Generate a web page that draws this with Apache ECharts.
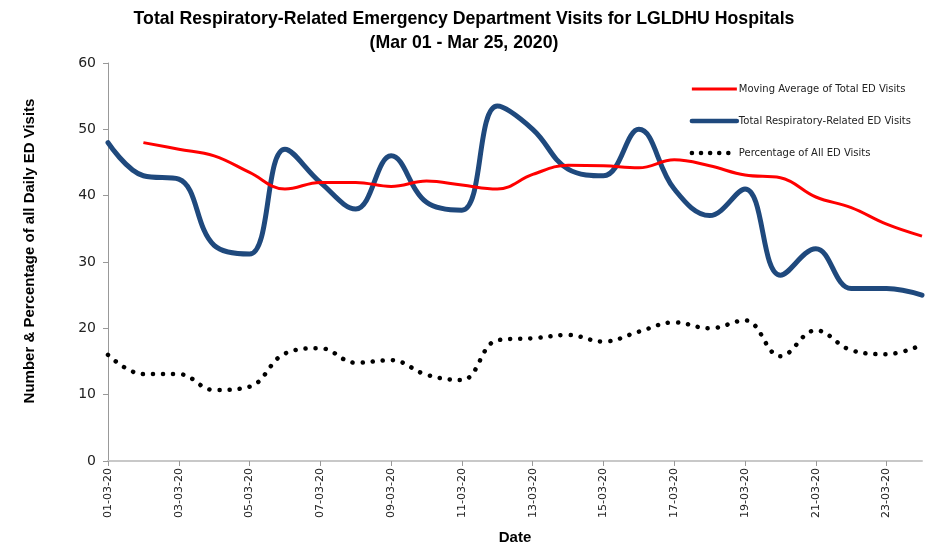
<!DOCTYPE html>
<html><head><meta charset="utf-8">
<script src="https://cdn.jsdelivr.net/npm/echarts@6/dist/echarts.min.js"></script>
<style>html,body{margin:0;padding:0;background:#fff}#c{width:928px;height:544px}</style>
</head><body><div id="c"></div>
<script>
var categories = ['01-03-20','02-03-20','03-03-20','04-03-20','05-03-20','06-03-20','07-03-20','08-03-20','09-03-20','10-03-20','11-03-20','12-03-20','13-03-20','14-03-20','15-03-20','16-03-20','17-03-20','18-03-20','19-03-20','20-03-20','21-03-20','22-03-20','23-03-20','24-03-20'];
var movingAverage = [null,48,47,46,43.5,41,42,42,41.4,42.2,41.6,41,43.2,44.6,44.5,44.2,45.4,44.5,43.1,42.7,39.8,38.2,35.7,33.9];
var totalVisits = [48,43,42.5,32.5,31.2,47,42,38,46,39,37.8,53.5,50,44,43,50,41,37,41,28,32,26,26,25];
var percentage = [16,13.1,13.1,10.7,11.2,16.2,17,14.8,15.2,13,12.2,18.2,18.5,19,18,19.5,20.9,20,21.2,15.8,19.7,16.7,16.1,17.5];
var yTicks = {min:0, max:60, interval:10};

var chart = echarts.init(document.getElementById('c'), null, {renderer:'canvas'});
chart.setOption({
  animation:false,
  backgroundColor:'#fff',
  title:{
    text:'Total Respiratory-Related Emergency Department Visits for LGLDHU Hospitals\n(Mar 01 - Mar 25, 2020)',
    left:'center', top:2,
    textStyle:{fontFamily:'Liberation Sans, sans-serif', fontWeight:'bold', fontSize:17.7, lineHeight:24, color:'#000'}
  },
  legend:{
    orient:'vertical', right:12, top:79, itemGap:22, itemWidth:45, itemHeight:12,
    itemStyle:{opacity:0},
    textStyle:{fontFamily:'DejaVu Sans', fontSize:10, color:'#222', padding:[0,0,0,-3]},
    data:[
      {name:'Moving Average of Total ED Visits', lineStyle:{width:3, color:'#ff0000'}},
      {name:'Total Respiratory-Related ED Visits', lineStyle:{width:4.5, color:'#1f497d', cap:'round'}},
      {name:'Percentage of All ED Visits', lineStyle:{width:4.5, color:'#000', type:[0.1,9], cap:'round'}}
    ]
  },
  grid:{left:108, right:6, top:63, bottom:83, outerBoundsMode:'none', containLabel:false},
  xAxis:{
    type:'category', data:categories, boundaryGap:false,
    name:'Date', nameLocation:'middle', nameGap:69,
    nameTextStyle:{fontFamily:'Liberation Sans, sans-serif', fontWeight:'bold', fontSize:15, color:'#000'},
    axisLine:{lineStyle:{color:'#c8c8c8', width:2}},
    axisTick:{interval:1, length:5, lineStyle:{color:'#999'}},
    axisLabel:{interval:1, rotate:90, margin:7, fontFamily:'DejaVu Sans', fontSize:11, color:'#222'}
  },
  yAxis:{
    type:'value', min:yTicks.min, max:yTicks.max, interval:yTicks.interval,
    name:'Number & Percentage of all Daily ED Visits', nameLocation:'middle', nameGap:71,
    nameTextStyle:{fontFamily:'Liberation Sans, sans-serif', fontWeight:'bold', fontSize:15, color:'#000', padding:[0,0,0,22]},
    axisLine:{show:true, lineStyle:{color:'#999'}},
    axisTick:{show:true, length:5, lineStyle:{color:'#999'}},
    splitLine:{show:false},
    axisLabel:{fontFamily:'DejaVu Sans', fontSize:14, color:'#222', margin:12}
  },
  series:[
    {name:'Moving Average of Total ED Visits', type:'line', data:movingAverage, smooth:0.4, showSymbol:false, symbol:'none',
     connectNulls:false, lineStyle:{color:'#ff0000', width:3}, itemStyle:{color:'#ff0000'}, z:3},
    {name:'Total Respiratory-Related ED Visits', type:'line', data:totalVisits, smooth:0.4, showSymbol:false, symbol:'none',
     lineStyle:{color:'#1f497d', width:5, cap:'round'}, itemStyle:{color:'#1f497d'}, z:2},
    {name:'Percentage of All ED Visits', type:'line', data:percentage, smooth:0.4, showSymbol:false, symbol:'none',
     lineStyle:{color:'#000', width:4.5, type:[0.1,10], cap:'round'}, itemStyle:{color:'#000'}, z:4}
  ]
});
</script></body></html>
